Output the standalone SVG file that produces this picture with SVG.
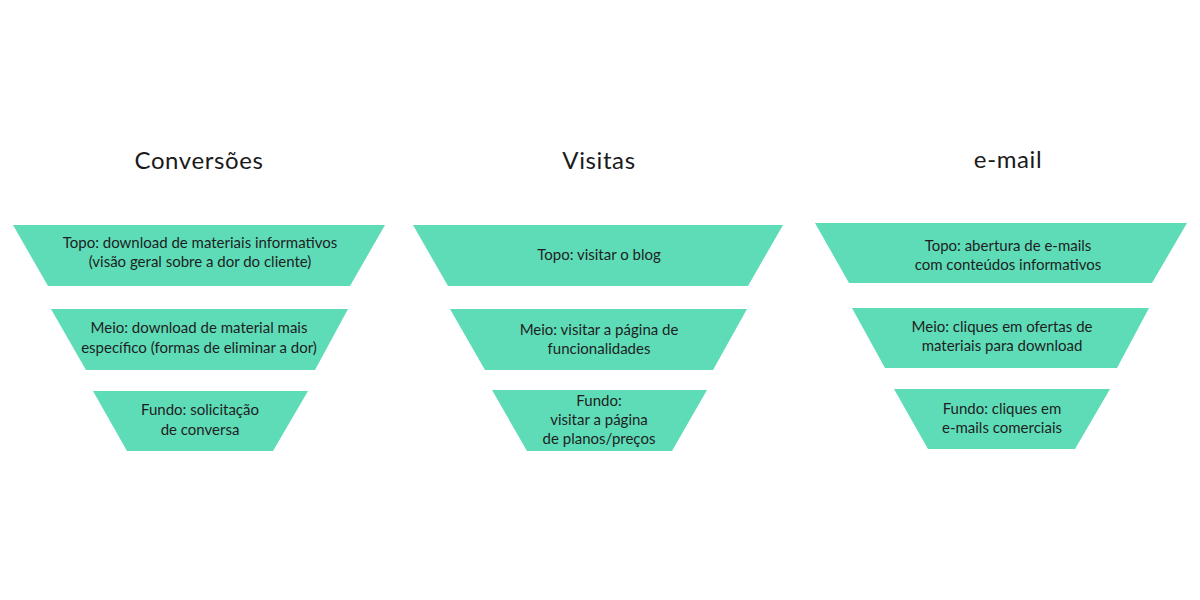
<svg xmlns="http://www.w3.org/2000/svg" width="1200" height="600" viewBox="0 0 1200 600">
<style>
.bg{fill:#ffffff}
.seg{fill:#5ddcb7}
.title{font-family:"Lato","Noto Sans",sans-serif;font-size:24px;fill:#1a1a1a;text-anchor:middle;letter-spacing:0.6px}
.lbl{font-family:"Lato","Noto Sans",sans-serif;font-size:15px;fill:#1f1f1f;text-anchor:middle}
</style>
<rect class="bg" x="0" y="0" width="1200" height="600"/>
<g id="title-conversoes"><text class="title" x="199" y="169">Conversões</text></g>
<g id="title-visitas"><text class="title" x="599" y="169">Visitas</text></g>
<g id="title-email"><text class="title" x="1008" y="168">e-mail</text></g>

<g id="conv-topo">
<polygon class="seg" points="13,225 385,225 350,286 48,286"/>
<text class="lbl" x="200" y="248">Topo: download de materiais informativos</text>
<text class="lbl" x="200" y="267">(visão geral sobre a dor do cliente)</text>
</g>
<g id="conv-meio">
<polygon class="seg" points="51,309 348,309 315,370 86,370"/>
<text class="lbl" x="199" y="333">Meio: download de material mais</text>
<text class="lbl" x="199" y="353">específico (formas de eliminar a dor)</text>
</g>
<g id="conv-fundo">
<polygon class="seg" points="93,391 308,391 273,451 127,451"/>
<text class="lbl" x="200" y="415">Fundo: solicitação</text>
<text class="lbl" x="200" y="435">de conversa</text>
</g>

<g id="vis-topo">
<polygon class="seg" points="413,225 783,225 748,286 448,286"/>
<text class="lbl" x="599" y="260">Topo: visitar o blog</text>
</g>
<g id="vis-meio">
<polygon class="seg" points="450,309 747,309 713,370 485,370"/>
<text class="lbl" x="599" y="335">Meio: visitar a página de</text>
<text class="lbl" x="599" y="354">funcionalidades</text>
</g>
<g id="vis-fundo">
<polygon class="seg" points="492,390 707,390 672,451 527,451"/>
<text class="lbl" x="599" y="406">Fundo:</text>
<text class="lbl" x="599" y="425">visitar a página</text>
<text class="lbl" x="599" y="444">de planos/preços</text>
</g>

<g id="mail-topo">
<polygon class="seg" points="815,223 1187,223 1152,283 849,283"/>
<text class="lbl" x="1008" y="251">Topo: abertura de e-mails</text>
<text class="lbl" x="1008" y="270">com conteúdos informativos</text>
</g>
<g id="mail-meio">
<polygon class="seg" points="852,308 1149,308 1117,368 885,368"/>
<text class="lbl" x="1002" y="332">Meio: cliques em ofertas de</text>
<text class="lbl" x="1002" y="351">materiais para download</text>
</g>
<g id="mail-fundo">
<polygon class="seg" points="894,389 1110,389 1075,449 928,449"/>
<text class="lbl" x="1002" y="414">Fundo: cliques em</text>
<text class="lbl" x="1002" y="433">e-mails comerciais</text>
</g>
</svg>
